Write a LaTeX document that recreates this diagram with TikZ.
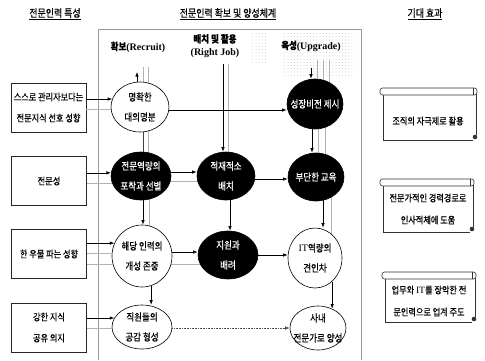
\documentclass[tikz,border=0pt]{standalone}
\usepackage{fontspec}
\setmainfont{Liberation Serif}
\newfontfamily\kr[FakeStretch=0.85,FakeBold=0.6]{Noto Sans CJK KR}
\usetikzlibrary{shapes.geometric,arrows.meta,patterns.meta,calc}
\pgfdeclarelayer{bg}
\pgfsetlayers{bg,main}
\newcommand\myscroll[4]{%
  \draw[scl] (#1+3,#2+6) -- (#1+3,#4) -- (#3-4,#4);
  \draw[scl] (#3-1,#2+6) -- (#3-1,#4-5);
  \draw[scl,fill=white,rounded corners=2.5pt] (#1,#2) rectangle (#3,#2+7);
  \draw[scl] (#3-4,#2) -- (#3-4,#2+7);
  \fill[black!80] (#3-2,#4-3) circle (2.3pt);
}
\begin{document}
\begin{tikzpicture}[x=1pt,y=-1pt,
  every node/.style={inner sep=0pt},
  el/.style={ellipse, draw=black, line width=0.6pt},
  wel/.style={el, fill=white},
  bel/.style={el, fill=black},
  txt/.style={align=center, font=\kr\fontsize{10}{20}\selectfont},
  wtxt/.style={txt, text=white},
  lbox/.style={draw=black!85, line width=0.6pt, fill=white, minimum width=75pt, minimum height=49pt, align=center, font=\kr\fontsize{9.6}{21}\selectfont},
  hd/.style={font=\bfseries\fontsize{10}{13}\selectfont, align=center},
  ttl/.style={font=\kr\fontsize{10.5}{12}\selectfont},
  arr/.style={-{Latex[length=4.5pt,width=3.4pt]}, line width=0.6pt, black},
  darr/.style={arr, black!70, densely dotted},
  gl/.style={gray!60, line width=0.6pt},
  dl/.style={black!75, line width=0.5pt},
  frm/.style={gray!80, line width=0.6pt},
  scl/.style={black!80, line width=0.6pt},
  stxt/.style={align=center, font=\kr\fontsize{9.6}{22}\selectfont}
]
\useasboundingbox (0,0) rectangle (485,360);

% titles
\node[ttl] (t1) at (55,14) {\underline{전문인력 특성}};
\node[ttl] (t2) at (228,14) {\underline{전문인력 확보 및 양성체계}};
\node[ttl] (t3) at (425,14) {\underline{기대 효과}};

% frame and dotted area
\fill[pattern={Dots[distance=3.2pt,radius=0.4pt]}, pattern color=gray!70] (282,31) rectangle (352,76);
\fill[pattern={Dots[distance=3.2pt,radius=0.4pt]}, pattern color=gray!60] (250,33) rectangle (268,62);
\draw[frm] (98,360) -- (98,29) -- (361,29) -- (361,360);

% column headings
\node[hd] (h1) at (138,47) {{\kr 확보}(Recruit)};
\node[hd] (h2) at (215,46) {{\kr 배치 및 활용}\\(Right Job)};
\node[hd] (h3) at (311,46) {{\kr 육성}(Upgrade)};

% left boxes
\node[lbox] (b1) at (48.5,107.5) {스스로 관리자보다는\\전문지식 선호 성향};
\node[lbox] (b2) at (49,181) {전문성};
\node[lbox] (b3) at (49,254) {한 우물 파는 성향};
\node[lbox] (b4) at (49,327.5) {강한 지식\\공유 의지};

% ellipses
\node[wel, minimum width=58pt, minimum height=50pt] (e1) at (140,107) {};
\node[bel, minimum width=60pt, minimum height=48pt] (e2) at (141,176) {};
\node[wel, minimum width=60pt, minimum height=62pt] (e3) at (142,256) {};
\node[wel, minimum width=60pt, minimum height=44pt] (e4) at (142,327) {};
\node[bel, minimum width=58pt, minimum height=48pt] (e5) at (226,176) {};
\node[bel, minimum width=60pt, minimum height=48pt] (e6) at (228,255) {};
\node[bel, minimum width=56pt, minimum height=50pt] (e7) at (315,104) {};
\node[bel, minimum width=56pt, minimum height=48pt] (e8) at (316,177) {};
\node[wel, minimum width=54pt, minimum height=60pt] (e9) at (315,258) {};
\node[wel, minimum width=56pt, minimum height=44pt] (e10) at (318,328) {};

% background companion lines
\begin{pgfonlayer}{bg}
  \draw[gl] (143,67) -- (e1.center -| 143,0);
  \draw[gl] (148,67) -- (e1.center -| 148,0);
  \draw[gl] (228,64) -- (e5.center -| 228,0);
  \draw[gl] (317,60) -- (e7.center -| 317,0);
  \draw[gl] (323,60) -- (e7.center -| 323,0);
  \draw[gl] (329,60) -- (e7.center -| 329,0);
  \draw[dl] (e1.center -| 143,0) -- (e2.center -| 143,0);
  \draw[gl] (e1.center -| 148,0) -- (e2.center -| 148,0);
  \draw[gl] (e2.center |- 0,181) -- (e5.center |- 0,181);
  \draw[gl] (e7.center -| 318,0) -- (e8.center -| 318,0);
  \draw[gl] (e7.center -| 325,0) -- (e8.center -| 325,0);
  \draw[gl] (e2.center -| 149,0) -- (e3.center -| 149,0);
  \draw[gl] (e3.center |- 0,264) -- (e6.center |- 0,264);
  \draw[gl] (e8.center -| 331,0) -- (e9.center -| 331,0);
\end{pgfonlayer}

% box connectors
\draw[arr] (b1.east |- e1.164) -- (e1.164);
\draw[gl] (b1.east |- e1.184) -- (e1.184);
\draw[arr] (b2.east |- e2.174) -- (e2.174);
\draw[gl] (b2.east |- e2.194) -- (e2.194);
\draw[arr] (b3.east |- e3.155) -- (e3.155);
\draw[gl] (b3.east |- e3.174) -- (e3.174);
\draw[gl] (b3.east |- e3.195) -- (e3.195);
\draw[arr] (b4.east |- e4.162) -- (e4.162);
\draw[gl] (b4.east |- e4.182) -- (e4.182);

% heading connectors
\coordinate (u1) at (137,72);
\coordinate (u2) at (223,64);
\coordinate (u3) at (311,68);
\draw[arr] (e1.north -| u1) -- (u1);
\draw[arr] (u2) -- (u2 |- e5.north);
\draw[arr] (u3) -- (u3 |- e7.north);

% flow connectors
\draw[arr] (e1.east |- 0,110) -- (e7.west |- 0,110);
\draw[arr] (e2.center |- 0,172) -- (e5.west |- 0,172);
\draw[arr] (e5.center |- 0,179) -- (e8.west |- 0,179);
\draw[arr] (e7.center -| 312,0) -- (e8.north -| 312,0);
\draw[arr] (e2.center -| 143,0) -- (e3.north -| 143,0);
\draw[arr] (e5.center -| 230,0) -- (e6.north -| 230,0);
\draw[arr] (e3.east |- 0,252) -- (e6.west |- 0,252);
\draw[arr] (e8.center -| 323,0) -- (e9.north -| 323,0);
\draw[arr] (e6.center) -- (e9.west |- e6.center);
\draw[arr] (e3.-73) -- (e3.-73 |- e4.north);
\draw[arr] (e9.-54) -- (e9.-54 |- e10.54);
\draw[darr] (e4.east |- 0,328) -- (e10.west |- 0,328);

% ellipse texts
\node[txt] (e1t) at (e1) {명확한\\대의명분};
\node[wtxt] (e2t) at (e2) {전문역량의\\포착과 선별};
\node[txt] (e3t) at (e3) {해당 인력의\\개성 존중};
\node[txt] (e4t) at (e4) {직원들의\\공감 형성};
\node[wtxt] (e5t) at (e5) {적재적소\\배치};
\node[wtxt] (e6t) at (e6) {지원과\\배려};
\node[wtxt] (e7t) at (e7) {성장비전 제시};
\node[wtxt] (e8t) at (e8) {부단한 교육};
\node[txt] (e9t) at (e9) {{\rmfamily IT}역량의\\견인차};
\node[txt] (e10t) at (e10) {사내\\전문가로 양성};

% expected effects (scrolls)
\myscroll{380}{88}{477}{140}
\myscroll{380}{179}{474}{232}
\myscroll{382}{272}{476}{322}
\node[stxt] (s1t) at (428,121) {조직의 자극제로 활용};
\node[stxt] (s2t) at (428,209) {전문가적인 경력경로로\\인사적체에 도움};
\node[stxt] (s3t) at (429,301) {업무와 {\rmfamily IT}를 장악한 전\\문인력으로 업계 주도};
\end{tikzpicture}
\end{document}
